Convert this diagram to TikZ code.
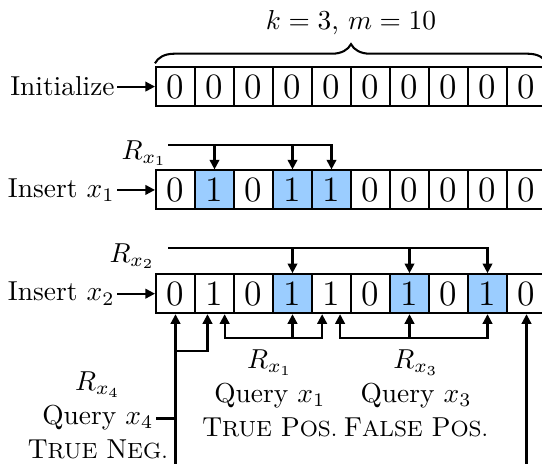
\documentclass[tikz,border=0pt]{standalone}
\usetikzlibrary{arrows.meta,decorations.pathreplacing}
\definecolor{hitblue}{RGB}{155,205,255}
\newcommand{\scsize}{\fontsize{8}{12.4}\selectfont}

\begin{document}
\begin{tikzpicture}[
    x=0.5cm, y=0.5cm,
    line width=0.75pt,
    >={Triangle[length=3.5pt,width=3.5pt]},
    every node/.style={font=\fontsize{10}{12.4}\selectfont},
    bit/.style={draw, minimum size=0.5cm, inner sep=0pt, font=\fontsize{13}{15}\selectfont},
    hit/.style={bit, fill=hitblue},
    lbl/.style={inner sep=0.5pt, anchor=east},
    rlbl/.style={inner sep=0pt, anchor=base east},
    query/.style={inner sep=0pt, anchor=north, align=center}
]
\clip (0,0) rectangle (13.897,-11.897);
% Filas de bits
\foreach \i in {0,...,9}
    \node[bit] (r1c\i) at (4.5+\i,-2.22) {0};
\foreach \i/\v/\s in {0/0/bit,1/1/hit,2/0/bit,3/1/hit,4/1/hit,5/0/bit,6/0/bit,7/0/bit,8/0/bit,9/0/bit}
    \node[\s] (r2c\i) at (4.5+\i,-4.87) {\v};
\foreach \i/\v/\s in {0/0/bit,1/1/bit,2/0/bit,3/1/hit,4/1/bit,5/0/bit,6/1/hit,7/0/bit,8/1/hit,9/0/bit}
    \node[\s] (r3c\i) at (4.5+\i,-7.53) {\v};
% Llave
\draw[decorate, decoration={brace, amplitude=7pt, raise=1pt}] (r1c0.north west) -- (r1c9.north east);
\node (kmLbl) at (9,-0.59) {$k=3$, $m=10$};
% Etiquetas
\node[lbl] (initLbl) at (3.0,-2.22) {Initialize};
\node[lbl] (insOneLbl) at (3.0,-4.87) {Insert $x_1$};
\node[lbl] (insTwoLbl) at (3.0,-7.53) {Insert $x_2$};
\draw[->] (initLbl) -- (r1c0);
\draw[->] (insOneLbl) -- (r2c0);
\draw[->] (insTwoLbl) -- (r3c0);
% Insert x1
\coordinate (rOne) at (4.31,-3.72);
\node[rlbl] (rOneLbl) at (4.31,-4.08) {$R_{x_1}$};
\draw[->] (rOne) -| (r2c4);
\draw[->] (r2c1 |- rOne) -- (r2c1);
\draw[->] (r2c3 |- rOne) -- (r2c3);
% Insert x2
\coordinate (rTwo) at (4.31,-6.36);
\node[rlbl] (rTwoLbl) at (4.0,-6.72) {$R_{x_2}$};
\draw[->] (rTwo) -| (r3c8);
\draw[->] (r3c3 |- rTwo) -- (r3c3);
\draw[->] (r3c6 |- rTwo) -- (r3c6);
% Consultas
\coordinate (tpIn) at ([xshift=0.13cm]r3c1.south);
\coordinate (tpOut) at ([xshift=-0.12cm]r3c4.south);
\coordinate (fpIn) at ([xshift=0.11cm]r3c4.south);
\coordinate (tnIn) at ([xshift=-0.09cm]r3c1.south);
\coordinate (tpJoin) at (7.5,-8.67);
\coordinate (fpJoin) at (10.5,-8.67);
\coordinate (tnKnee) at (4.5,-9.0);
\coordinate (tnJoin) at (4.5,-10.73);
\coordinate (tnTip) at (4.0,-10.73);
\coordinate (tnEnd) at (4.5,-11.9);
\coordinate (fnEnd) at (13.5,-11.9);
\draw[<->] (tpIn) |- (tpJoin) -| (tpOut);
\draw[->] (tpJoin) -- (r3c3);
\draw[<->] (fpIn) |- (fpJoin) -| (r3c8);
\draw[->] (fpJoin) -- (r3c6);
\draw[->] (tnEnd) -- (r3c0);
\draw[->] (tnKnee) -| (tnIn);
\draw (tnTip) -- (tnJoin);
\draw[->] (fnEnd) -- (r3c9);
\node[query] (tpLbl) at (6.92,-8.95) {$R_{x_1}$\\Query $x_1$\\T{\scsize RUE} P{\scsize OS.}};
\node[query] (fpLbl) at (10.67,-8.95) {$R_{x_3}$\\Query $x_3$\\F{\scsize ALSE} P{\scsize OS.}};
\node[query] (tnLbl) at (2.51,-9.51) {$R_{x_4}$\\Query $x_4$\\T{\scsize RUE} N{\scsize EG.}};
\end{tikzpicture}
\end{document}
